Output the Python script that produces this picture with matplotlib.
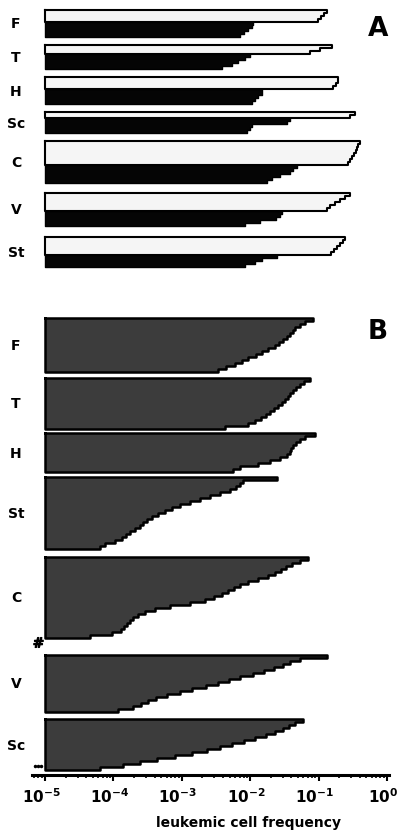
import matplotlib.pyplot as plt
import numpy as np
from matplotlib.transforms import blended_transform_factory, ScaledTranslation

plt.rcParams['font.family'] = ['DejaVu Sans']

XMIN = 1e-5

# panel A: open (upper) and solid (lower) bars per tissue, sorted frequencies per animal
organs_a = ['F', 'T', 'H', 'Sc', 'C', 'V', 'St']
open_a = [
    [0.133, 0.120, 0.108, 0.098],
    [0.157, 0.105, 0.075],
    [0.192, 0.192, 0.180, 0.162],
    [0.340, 0.288],
    [0.403, 0.377, 0.364, 0.352, 0.329, 0.308, 0.288, 0.269],
    [0.288, 0.243, 0.206, 0.174, 0.147, 0.133],
    [0.243, 0.227, 0.206, 0.186, 0.168, 0.152],
]
solid_a = [
    [0.0110, 0.0106, 0.0093, 0.0081, 0.0071],
    [0.0099, 0.0084, 0.0066, 0.0054, 0.0039],
    [0.0149, 0.0149, 0.0130, 0.0117, 0.0106],
    [0.0382, 0.0345, 0.0106, 0.0099, 0.0090],
    [0.0483, 0.0422, 0.0382, 0.0273, 0.0208, 0.0176],
    [0.0292, 0.0273, 0.0238, 0.0139, 0.0084],
    [0.0247, 0.0149, 0.0117, 0.0084],
]

# panel B: sorted frequencies per animal
organs_b = ['F', 'T', 'H', 'St', 'C', 'V', 'Sc']
freq_b = [
    [0.0828, 0.0633, 0.0535, 0.0452, 0.0422, 0.0382, 0.0345, 0.0302, 0.0264,
     0.0231, 0.0182, 0.0149, 0.0122, 0.0093, 0.0076, 0.0060, 0.0044, 0.0034],
    [0.0749, 0.0612, 0.0535, 0.0467, 0.0422, 0.0382, 0.0357, 0.0323, 0.0292,
     0.0255, 0.0223, 0.0195, 0.0170, 0.0144, 0.0117, 0.0093, 0.0043],
    [0.0886, 0.0633, 0.0535, 0.0467, 0.0422, 0.0395, 0.0382, 0.0345, 0.0273,
     0.0195, 0.0130, 0.0071, 0.0056],
    [0.0247, 0.0079, 0.0071, 0.0062, 0.0051, 0.0036, 0.0026, 0.00185, 0.00132,
     0.00094, 0.00072, 0.00057, 0.00045, 0.00037, 0.00031, 0.00027, 0.000245,
     0.000207, 0.000175, 0.000153, 0.000134, 0.000105, 0.000075, 0.000064],
    [0.0700, 0.0535, 0.0408, 0.0334, 0.0282, 0.0231, 0.0182, 0.0130, 0.0093,
     0.0071, 0.0058, 0.00473, 0.00387, 0.00296, 0.00218, 0.00132, 0.00067,
     0.00041, 0.00029, 0.00023, 0.000194, 0.000175, 0.000158, 0.000143,
     0.000129, 0.000095, 0.0000455],
    [0.133, 0.0535, 0.0382, 0.0302, 0.0223, 0.0159, 0.0110, 0.0071, 0.0049,
     0.0034, 0.00226, 0.00141, 0.00094, 0.00061, 0.00042, 0.00032, 0.000253,
     0.000194, 0.000117],
    [0.0592, 0.0452, 0.0369, 0.0302, 0.0231, 0.0170, 0.0117, 0.0081, 0.0054,
     0.0036, 0.00234, 0.00141, 0.00080, 0.00043, 0.000245, 0.000138, 0.000064],
]

xticks = [1e-5, 1e-4, 1e-3, 1e-2, 1e-1, 1e0]
xtick_labels = [r'$\mathbf{10^{-5}}$', r'$\mathbf{10^{-4}}$', r'$\mathbf{10^{-3}}$',
                r'$\mathbf{10^{-2}}$', r'$\mathbf{10^{-1}}$', r'$\mathbf{10^{0}}$']

# layout (y in pixels from the top)
ROW = 3.0
top_a = 10
gaps_a = [8, 8, 8, 8, 10, 11]
top_b = 318
gaps_b = [6, 4, 5, 8, 17, 7]


def draw_group(ax, top, vals, fill, lw=1.3):
    vals = np.array(vals)
    ys = top + ROW * np.arange(len(vals))
    ax.barh(ys, vals - XMIN, left=XMIN, height=ROW, align='edge', color=fill, lw=0)
    xs, yy = [XMIN], [top]
    for i, v in enumerate(vals):
        xs += [v, v]
        yy += [top + i * ROW, top + (i + 1) * ROW]
    xs += [XMIN, XMIN]
    yy += [top + len(vals) * ROW, top]
    ax.plot(xs, yy, color='black', lw=lw, solid_joinstyle='round')
    return top + len(vals) * ROW


fig = plt.figure(figsize=(3.98, 8.33), dpi=100)
ax = fig.add_axes([32 / 398, 58 / 833, 357 / 398, 775 / 833])
ax.set_xscale('log')
ax.set_xlim(10 ** -5.19, 10 ** 0.029)
ax.set_ylim(775, 0)

lab_tr = blended_transform_factory(fig.transFigure, ax.transData)

y = top_a
for i, org in enumerate(organs_a):
    start = y
    y = draw_group(ax, y, open_a[i], '#f5f5f5', lw=1.5)
    y = draw_group(ax, y, solid_a[i], '#050505', lw=1.0)
    ax.text(16 / 398, (start + y) / 2 + 1, org, transform=lab_tr, ha='center',
            va='center', fontsize=10, fontweight='bold')
    if i < len(gaps_a):
        y += gaps_a[i]

y = top_b
for i, org in enumerate(organs_b):
    start = y
    y = draw_group(ax, y, freq_b[i], '#3c3c3c', lw=1.8)
    ax.text(16 / 398, (start + y) / 2 + 1, org, transform=lab_tr, ha='center',
            va='center', fontsize=10, fontweight='bold')
    if i < len(gaps_b):
        y += gaps_b[i]

# animals below detection limit
ax.plot([10 ** -5.1], [642], marker=r'$\#$', color='black', ms=7, clip_on=False)
ax.plot([10 ** -5.14, 10 ** -5.1, 10 ** -5.06], [766, 766, 766], 'o', color='black',
        ms=1.5, clip_on=False)

ax.set_xticks(xticks)
ax.set_xticklabels(xtick_labels, fontsize=11)
ax.tick_params(axis='x', which='major', direction='out', length=4, width=1.5, pad=5)
ax.tick_params(axis='x', which='minor', direction='out', length=2.5, width=1.2)
shift = ScaledTranslation(-4 / 100, 0, fig.dpi_scale_trans)
for lab in ax.get_xticklabels():
    lab.set_transform(lab.get_transform() + shift)
ax.set_yticks([])
for s in ['top', 'left', 'right']:
    ax.spines[s].set_visible(False)
ax.spines['bottom'].set_linewidth(2.2)

fig.text(378 / 398, 1 - 29 / 833, 'A', fontsize=19, fontweight='bold', ha='center', va='center')
fig.text(378 / 398, 1 - 332 / 833, 'B', fontsize=19, fontweight='bold', ha='center', va='center')
fig.text(248 / 398, 1 - 823 / 833, 'leukemic cell frequency', fontsize=10,
         fontweight='bold', ha='center', va='center')

fig.savefig('out.png', dpi=100)
